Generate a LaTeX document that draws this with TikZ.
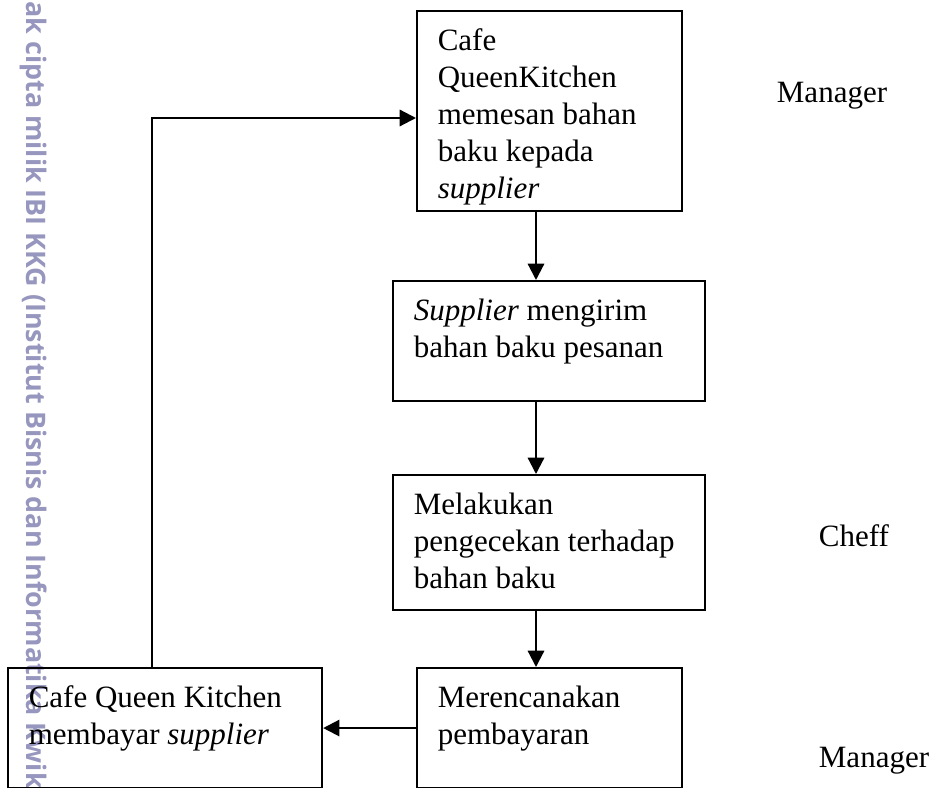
\documentclass[tikz,border=0pt]{standalone}
\usepackage{fontspec}
\setmainfont{Liberation Serif}
\newfontfamily\wmfont{Open Sans}
\usetikzlibrary{arrows.meta}
\definecolor{tandaair}{RGB}{150,150,190}

\newcommand{\isi}[3]{\parbox[c][#2][t]{#1}{\raggedright #3}}

\begin{document}
\begin{tikzpicture}[x=0.387pt,y=-0.387pt,
    kotak/.style={draw, line width=0.85pt, anchor=north west, inner xsep=8pt,
      inner ysep=6.8pt, font=\fontsize{12}{14.3}\selectfont},
    panah/.style={line width=0.85pt, -{Triangle[length=6.3pt,width=6.3pt]}},
    peran/.style={font=\fontsize{12}{14.3}\selectfont}]
  \useasboundingbox (0,0) rectangle (934,788);
  % watermark
  \node[rotate=-90, anchor=west, inner sep=0, text=tandaair,
    font=\wmfont\bfseries\fontsize{10.4}{12}\selectfont] (tanda) at (34,1)
    {ak cipta milik IBI KKG (Institut Bisnis dan Informatika Kwik};
  % alur
  \node[kotak] (pesan) at (416,10) {\isi{86.6pt}{63.8pt}{Cafe\\QueenKitchen\\memesan bahan\\baku kepada\\\textit{supplier}}};
  \node[kotak] (kirim) at (392,280) {\isi{104.7pt}{32.8pt}{\textit{Supplier} mengirim\\bahan baku pesanan}};
  \node[kotak] (cek) at (392,474) {\isi{104.7pt}{38.6pt}{Melakukan\\pengecekan terhadap\\bahan baku}};
  \node[kotak] (rencana) at (416,667) {\isi{86.6pt}{32.8pt}{Merencanakan\\pembayaran}};
  \node[kotak] (bayar) at (7,667) {\isi{105.5pt}{32.8pt}{Cafe Queen Kitchen\\membayar \textit{supplier}}};
  % peran
  \node[peran] (manajer1) at (832,96) {Manager};
  \node[peran] (koki) at (854,536) {Cheff};
  \node[peran] (manajer2) at (874,761) {Manager};
  % panah
  \coordinate (jalur) at (536,0);
  \coordinate (balik) at (152,118);
  \draw[panah] (pesan.south -| jalur) -- (kirim.north -| jalur);
  \draw[panah] (kirim.south -| jalur) -- (cek.north -| jalur);
  \draw[panah] (cek.south -| jalur) -- (rencana.north -| jalur);
  \draw[panah] (rencana.west) -- (bayar.east);
  \draw[panah] (bayar.north -| balik) |- (pesan.west |- balik);
\end{tikzpicture}
\end{document}
